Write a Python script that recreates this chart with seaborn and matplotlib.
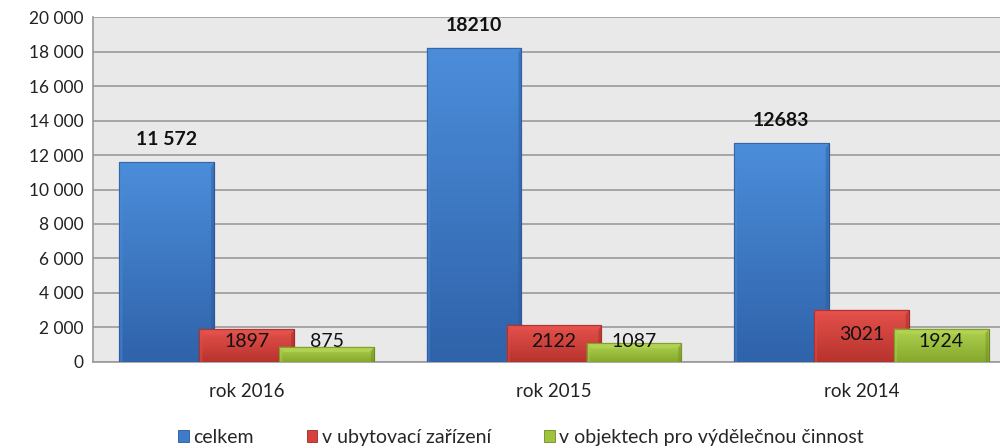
import matplotlib
matplotlib.use("Agg")
import matplotlib.pyplot as plt
import matplotlib.colors as mcolors
import numpy as np
import seaborn as sns
import pandas as pd
from matplotlib.patches import Patch, Polygon

# Data
years = ["rok 2016", "rok 2015", "rok 2014"]
series = ["celkem", "v ubytovací zařízení", "v objektech pro výdělečnou činnost"]
celkem = [11572, 18210, 12683]
ubytovaci = [1897, 2122, 3021]
vydelecna = [875, 1087, 1924]
value_labels = {
    "celkem": ["11 572", "18210", "12683"],
    "v ubytovací zařízení": ["1897", "2122", "3021"],
    "v objektech pro výdělečnou činnost": ["875", "1087", "1924"],
}
y_ticks = [0, 2000, 4000, 6000, 8000, 10000, 12000, 14000, 16000, 18000, 20000]

colors = ["#3D7BCB", "#D6413B", "#A0C33E"]
top_colors = ["#4C8DDA", "#E5514B", "#B2D452"]
bottom_colors = ["#2F63AA", "#B8332E", "#86A82C"]
edge_colors = ["#2B5796", "#9A2A26", "#6E8A22"]

df = pd.DataFrame({
    "rok": years * 3,
    "serie": [s for s in series for _ in years],
    "hodnota": celkem + ubytovaci + vydelecna,
})

sns.set_theme(style="white")
plt.rcParams["font.family"] = ["Lato", "DejaVu Sans"]

fig = plt.figure(figsize=(10, 4.48), dpi=100)
ax = fig.add_axes([0.093, 0.192, 0.922, 0.770])
ax.set_facecolor("#E9E9E9")

sns.barplot(data=df, x="rok", y="hodnota", hue="serie", order=years,
            hue_order=series, palette=colors, width=0.78, ax=ax,
            legend=False, saturation=1)

ax.set_ylim(0, 20000)
ax.set_xlim(-0.5, 2.5)

# pixel sizes expressed in data units for the bevel
px_x = 3.0 / 922
px_y = 20000 / 345

# widen bars so neighbours overlap slightly, keep their centres;
# shade each one with a vertical gradient and a bevelled rim
bar_w = 0.308
for i, container in enumerate(ax.containers):
    grad = mcolors.LinearSegmentedColormap.from_list(
        f"g{i}", [bottom_colors[i], top_colors[i]])
    for p in container:
        cx = p.get_x() + p.get_width() / 2
        p.set_width(bar_w)
        p.set_x(cx - bar_w / 2)
        p.set_edgecolor(edge_colors[i])
        p.set_linewidth(0.8)
        z = 3 + i
        p.set_zorder(z)
        x0, x1 = cx - bar_w / 2, cx + bar_w / 2
        h = p.get_height()
        img = ax.imshow(np.linspace(0, 1, 64).reshape(-1, 1), cmap=grad,
                        origin="lower", extent=(x0, x1, 0, h), aspect="auto",
                        zorder=z + 0.01, interpolation="bilinear")
        img.set_clip_path(p)
        b = 5
        bx, by = b * px_x, b * px_y
        top = Polygon([(x0, h), (x1, h), (x1 - bx, h - by), (x0 + bx, h - by)],
                      closed=True, facecolor=top_colors[i], alpha=0.9,
                      edgecolor="none", zorder=z + 0.02)
        left = Polygon([(x0, 0), (x0, h), (x0 + bx * 0.6, h - by),
                        (x0 + bx * 0.6, 0)], closed=True,
                       facecolor=top_colors[i], alpha=0.45, edgecolor="none",
                       zorder=z + 0.02)
        right = Polygon([(x1, 0), (x1, h), (x1 - bx * 0.6, h - by),
                         (x1 - bx * 0.6, 0)], closed=True,
                        facecolor=edge_colors[i], alpha=0.45, edgecolor="none",
                        zorder=z + 0.02)
        for poly in (top, left, right):
            ax.add_patch(poly)
        # outline on top of the shading
        ax.add_patch(Polygon([(x0, 0), (x0, h), (x1, h), (x1, 0)], closed=True,
                             facecolor="none", edgecolor=edge_colors[i],
                             linewidth=0.8, alpha=0.7, zorder=z + 0.03))

ax.set_xlim(-0.5, 2.5)
ax.set_ylim(0, 20000)
ax.set_yticks(y_ticks)
ax.set_yticklabels([f"{t:,}".replace(",", " ") for t in y_ticks], fontsize=12.5,
                   color="#222222")
ax.tick_params(axis="x", labelsize=13.5, colors="#222222", length=0, pad=15)
ax.tick_params(axis="y", length=0, pad=7)
ax.set_xlabel("")
ax.set_ylabel("")

ax.grid(axis="y", color="#A6A6A6", linewidth=1.4, zorder=0)
ax.set_axisbelow(True)
for side in ["top", "right"]:
    ax.spines[side].set_visible(False)
for side in ["left", "bottom"]:
    ax.spines[side].set_color("#9A9A9A")
    ax.spines[side].set_linewidth(1.2)

# value labels
for i, (s, container) in enumerate(zip(series, ax.containers)):
    for p, txt in zip(container, value_labels[s]):
        cx = p.get_x() + p.get_width() / 2
        v = p.get_height()
        if i == 0:
            ax.text(cx, v + 1300, txt, ha="center", va="center",
                    fontsize=14, fontweight="bold", color="#111111", zorder=10)
        else:
            ax.text(cx, max(1200, v - 1450), txt, ha="center", va="center",
                    fontsize=14, color="#111111", zorder=10)

handles = [Patch(facecolor=c, edgecolor=e, linewidth=0.6)
           for c, e in zip(colors, edge_colors)]
fig.legend(handles, series, loc="center", bbox_to_anchor=(0.521, 0.024),
           ncol=3, frameon=False, fontsize=14, handlelength=0.55,
           handleheight=0.55, handletextpad=0.25, columnspacing=2.7)

fig.savefig("out.png", dpi=100)
